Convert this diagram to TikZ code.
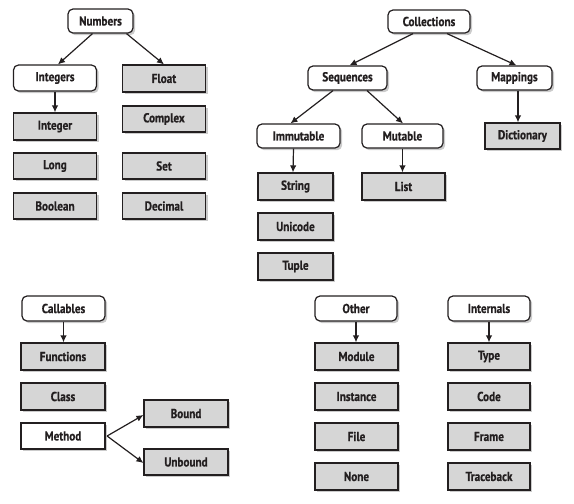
\documentclass[tikz,border=0pt]{standalone}
\usepackage{fontspec}
\setmainfont{PT Sans}[FakeStretch=0.86, BoldFeatures={FakeBold=0.6}]
\usetikzlibrary{arrows.meta,shadows}
\definecolor{boxgray}{HTML}{D6D6D6}
\definecolor{ink}{HTML}{231F20}
\begin{document}
\begin{tikzpicture}[x=1pt,y=-1pt,
  base/.style={draw=ink, line width=1.2pt, text=ink,
    font=\bfseries\fontsize{13}{14}\selectfont,
    minimum width=83pt, minimum height=26pt, inner sep=0pt,
    drop shadow={shadow xshift=2.2pt, shadow yshift=-2.2pt, fill=black!45, opacity=.45}},
  cat/.style={base, fill=white, rounded corners=5pt},
  leaf/.style={base, fill=boxgray},
  plainbox/.style={base, fill=white},
  arr/.style={draw=ink, line width=1.2pt, -{Latex[length=7pt,width=6.5pt]}}]
\useasboundingbox (0,0) rectangle (574,504);
% Numbers
\node[cat, minimum width=65pt, minimum height=24pt] (num) at (100.5,21) {Numbers};
\node[cat] (ints) at (55,78) {Integers};
\node[leaf, minimum height=27pt] (float) at (164,78.5) {Float};
\node[leaf, minimum height=27pt] (integer) at (55,126.5) {Integer};
\node[leaf] (complex) at (164,119) {Complex};
\node[leaf] (long) at (55,166) {Long};
\node[leaf] (set) at (164,166) {Set};
\node[leaf] (bool) at (55,206) {Boolean};
\node[leaf] (dec) at (164,206) {Decimal};
% Collections
\node[cat, minimum width=82pt, minimum height=23pt] (coll) at (429,21.5) {Collections};
\node[cat, minimum width=79pt, minimum height=24pt] (seq) at (347.5,78) {Sequences};
\node[cat, minimum width=75pt, minimum height=24pt] (map) at (514.5,78) {Mappings};
\node[cat, minimum height=24pt] (imm) at (298.5,136) {Immutable};
\node[cat, minimum width=81pt, minimum height=24pt] (mut) at (402.5,136) {Mutable};
\node[leaf, minimum width=75pt] (dict) at (522.5,136) {Dictionary};
\node[leaf, minimum width=75pt, minimum height=27pt] (str) at (295.5,186.5) {String};
\node[leaf, minimum height=27pt] (list) at (403.5,186.5) {List};
\node[leaf, minimum width=75pt, minimum height=27pt] (uni) at (295.5,226.5) {Unicode};
\node[leaf, minimum width=75pt, minimum height=27pt] (tup) at (295.5,266.5) {Tuple};
% Callables
\node[cat, minimum height=25pt] (call) at (63.5,308.5) {Callables};
\node[leaf, minimum width=84pt, minimum height=27pt] (func) at (63,356.5) {Functions};
\node[leaf, minimum width=84pt, minimum height=27pt] (class) at (63,396.5) {Class};
\node[plainbox, minimum width=84pt] (meth) at (63,436) {Method};
\node[leaf, minimum width=84pt, minimum height=27pt] (bound) at (186,413.5) {Bound};
\node[leaf, minimum width=84pt] (unbound) at (186,462) {Unbound};
% Other
\node[cat, minimum width=82pt, minimum height=25pt] (other) at (356,308.5) {Other};
\node[leaf, minimum height=27pt] (module) at (356.5,356.5) {Module};
\node[leaf, minimum height=27pt] (inst) at (356.5,396.5) {Instance};
\node[leaf, minimum height=27pt] (file) at (356.5,436.5) {File};
\node[leaf, minimum height=27pt] (none) at (356.5,476.5) {None};
% Internals
\node[cat, minimum width=82pt, minimum height=25pt] (intern) at (489,308.5) {Internals};
\node[leaf, minimum width=82pt, minimum height=27pt] (type) at (489,356.5) {Type};
\node[leaf, minimum width=82pt, minimum height=27pt] (code) at (489,396.5) {Code};
\node[leaf, minimum width=82pt, minimum height=27pt] (frame) at (489,436.5) {Frame};
\node[leaf, minimum width=82pt, minimum height=27pt] (trace) at (489,476.5) {Traceback};
% connectors
\draw[arr] ([xshift=-8pt]num.south) -- ([xshift=3pt]ints.north);
\draw[arr] ([xshift=26pt]num.south) -- ([xshift=0pt]float.north);
\draw[arr] (ints.south) -- (integer.north);
\draw[arr] ([xshift=-16pt]coll.south) -- ([xshift=2pt]seq.north);
\draw[arr] ([xshift=18pt]coll.south) -- ([xshift=2pt]map.north);
\draw[arr] ([xshift=-14.5pt]seq.south) -- ([xshift=-8pt]imm.north);
\draw[arr] ([xshift=19.5pt]seq.south) -- ([xshift=0.5pt]mut.north);
\draw[arr] ([xshift=-5pt]imm.south) -- ([xshift=-2.5pt]str.north);
\draw[arr] (mut.south) -- ([xshift=-1pt]list.north);
\draw[arr] ([xshift=3.5pt]map.south) -- ([xshift=-4.5pt]dict.north);
\draw[arr] (call.south) -- ([xshift=0.5pt]func.north);
\draw[arr] ([xshift=1.5pt]meth.east) -- ([yshift=-1.5pt]bound.west);
\draw[arr] ([xshift=1.5pt]meth.east) -- ([yshift=-1pt]unbound.west);
\draw[arr] (other.south) -- ([xshift=-0.5pt]module.north);
\draw[arr] (intern.south) -- (type.north);
\end{tikzpicture}
\end{document}
